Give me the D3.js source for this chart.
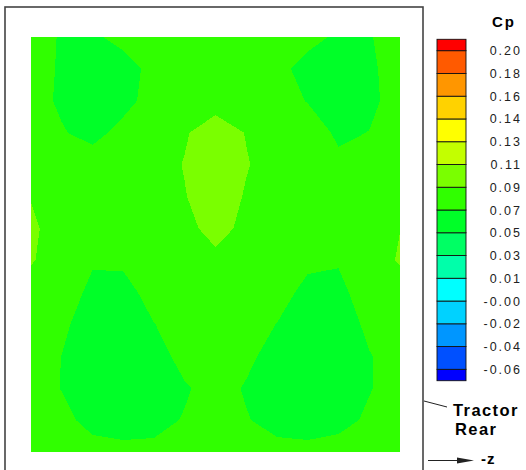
<!DOCTYPE html>
<html><head><meta charset="utf-8">
<script src="https://cdn.jsdelivr.net/npm/d3@7"></script>
<style>body{margin:0;background:#fff}svg{display:block}</style>
</head><body>
<script>
// Contour levels (Cp) and legend labels
const levels = [-0.06, -0.04, -0.02, 0.00, 0.01, 0.03, 0.05, 0.07, 0.09, 0.11, 0.13, 0.14, 0.16, 0.18, 0.20];
const levelLabels = ["-0.06", "-0.04", "-0.02", "-0.00", "0.01", "0.03", "0.05", "0.07", "0.09", "0.11", "0.13", "0.14", "0.16", "0.18", "0.20"];
// band colours, from below the lowest level to above the highest
const bandColors = ["#0000ff", "#0050ff", "#0096ff", "#00d2ff", "#00ffff", "#00ffaa", "#00ff64", "#00ff28",
                    "#30ff00", "#7aff00", "#c3ff00", "#ffff00", "#ffd200", "#ff9600", "#ff5a00", "#ff0000"];
// Cp sampled on a 13 x 14 mesh (rows top to bottom)
const cpValues = [
 [0.080, 0.068, 0.065, 0.080, 0.080, 0.080, 0.080, 0.080, 0.080, 0.080, 0.0648, 0.0686, 0.080],
 [0.080, 0.0672, 0.060, 0.0563, 0.080, 0.080, 0.080, 0.080, 0.080, 0.058, 0.060, 0.066, 0.080],
 [0.080, 0.066, 0.060, 0.0619, 0.080, 0.080, 0.080, 0.080, 0.080, 0.0689, 0.060, 0.0646, 0.080],
 [0.080, 0.072, 0.062, 0.078, 0.080, 0.0877, 0.1025, 0.089, 0.080, 0.0824, 0.066, 0.0705, 0.080],
 [0.080, 0.080, 0.083, 0.080, 0.080, 0.0912, 0.105, 0.0915, 0.080, 0.080, 0.075, 0.080, 0.080],
 [0.089, 0.080, 0.080, 0.080, 0.080, 0.0889, 0.104, 0.0878, 0.080, 0.080, 0.080, 0.080, 0.080],
 [0.094, 0.080, 0.080, 0.080, 0.080, 0.0785, 0.1038, 0.080, 0.080, 0.080, 0.080, 0.080, 0.0897],
 [0.0917, 0.080, 0.0721, 0.0747, 0.080, 0.080, 0.080, 0.080, 0.080, 0.0753, 0.0716, 0.080, 0.092],
 [0.080, 0.081, 0.065, 0.0609, 0.080, 0.080, 0.080, 0.080, 0.080, 0.0629, 0.065, 0.080, 0.078],
 [0.080, 0.0739, 0.060, 0.060, 0.0695, 0.080, 0.080, 0.080, 0.0695, 0.058, 0.0576, 0.075, 0.080],
 [0.080, 0.0698, 0.058, 0.058, 0.0576, 0.080, 0.080, 0.076, 0.0593, 0.057, 0.057, 0.0688, 0.080],
 [0.080, 0.0692, 0.058, 0.058, 0.058, 0.0672, 0.080, 0.0677, 0.058, 0.058, 0.058, 0.0686, 0.080],
 [0.080, 0.0769, 0.062, 0.060, 0.062, 0.0718, 0.080, 0.0715, 0.062, 0.060, 0.062, 0.074, 0.080],
 [0.080, 0.080, 0.0791, 0.076, 0.0763, 0.080, 0.080, 0.080, 0.0771, 0.076, 0.0803, 0.080, 0.080]
];

const W = 526, H = 470;
const svg = d3.select("body").append("svg").attr("width", W).attr("height", H);

// outer frame
svg.append("rect").attr("x", 5).attr("y", 7).attr("width", 418).attr("height", 480)
  .attr("fill", "none").attr("stroke", "#444").attr("stroke-width", 1.6);

const nx = cpValues[0].length, ny = cpValues.length;
const plot = {x0: 31, x1: 400, y0: 37, y1: 452};
const xs = d3.scaleLinear().domain([0.5, nx - 0.5]).range([plot.x0, plot.x1]);
const ys = d3.scaleLinear().domain([0.5, ny - 0.5]).range([plot.y0, plot.y1]);

svg.append("clipPath").attr("id", "pc").append("rect")
  .attr("x", plot.x0).attr("y", plot.y0).attr("width", plot.x1 - plot.x0).attr("height", plot.y1 - plot.y0);

const flat = cpValues.flat();
const contours = d3.contours().size([nx, ny]).thresholds(levels)(flat);
const proj = d3.geoTransform({point: function(x, y) { this.stream.point(xs(x), ys(y)); }});
const path = d3.geoPath(proj);

const g = svg.append("g").attr("clip-path", "url(#pc)");
g.append("rect").attr("x", plot.x0).attr("y", plot.y0).attr("width", plot.x1 - plot.x0).attr("height", plot.y1 - plot.y0)
  .attr("fill", bandColors[0]);
g.selectAll("path").data(contours).join("path")
  .attr("d", path)
  .attr("fill", (d, i) => bandColors[levels.indexOf(d.value) + 1])
  .attr("shape-rendering", "crispEdges");

// legend
const lx0 = 437, lx1 = 466;
const ly = d3.scaleLinear().domain([levels.length - 0.5, -0.5]).range([39.3, 380.7]);
const bands = bandColors.map((c, k) => ({c, top: ly(Math.min(k, levels.length - 0.5)), bot: ly(Math.max(k - 1, -0.5))}));
svg.append("g").selectAll("rect").data(bands).join("rect")
  .attr("x", lx0).attr("width", lx1 - lx0)
  .attr("y", d => d.top).attr("height", d => d.bot - d.top)
  .attr("fill", d => d.c).attr("stroke", "#111").attr("stroke-width", 0.9);

svg.append("g").selectAll("text").data(levelLabels).join("text")
  .attr("x", 522).attr("y", (d, i) => ly(i)).attr("dy", "0.36em")
  .attr("text-anchor", "end")
  .attr("font-family", "Liberation Sans, Arial, sans-serif").attr("font-size", 12.5)
  .attr("letter-spacing", 2).attr("fill", "#222")
  .text(d => d);

svg.append("text").attr("x", 504).attr("y", 27).attr("text-anchor", "middle")
  .attr("font-family", "Liberation Sans, Arial, sans-serif").attr("font-size", 15).attr("font-weight", "bold")
  .attr("letter-spacing", 2).text("Cp");

// annotations
svg.append("line").attr("x1", 424).attr("y1", 401).attr("x2", 447).attr("y2", 407)
  .attr("stroke", "#222").attr("stroke-width", 1);
svg.append("text").attr("x", 453).attr("y", 416)
  .attr("font-family", "Liberation Sans, Arial, sans-serif").attr("font-size", 16.5).attr("font-weight", "bold")
  .attr("letter-spacing", 1.4).text("Tractor");
svg.append("text").attr("x", 455).attr("y", 435)
  .attr("font-family", "Liberation Sans, Arial, sans-serif").attr("font-size", 16.5).attr("font-weight", "bold")
  .attr("letter-spacing", 1.4).text("Rear");
svg.append("line").attr("x1", 428).attr("y1", 460.5).attr("x2", 465).attr("y2", 460.5)
  .attr("stroke", "#222").attr("stroke-width", 1);
svg.append("path").attr("d", "M457,457.5 L474,460.5 L457,463.5 Z").attr("fill", "#222");
svg.append("text").attr("x", 481).attr("y", 464)
  .attr("font-family", "Liberation Sans, Arial, sans-serif").attr("font-size", 15).attr("font-weight", "bold")
  .attr("letter-spacing", 1).text("-z");
</script>
</body></html>
